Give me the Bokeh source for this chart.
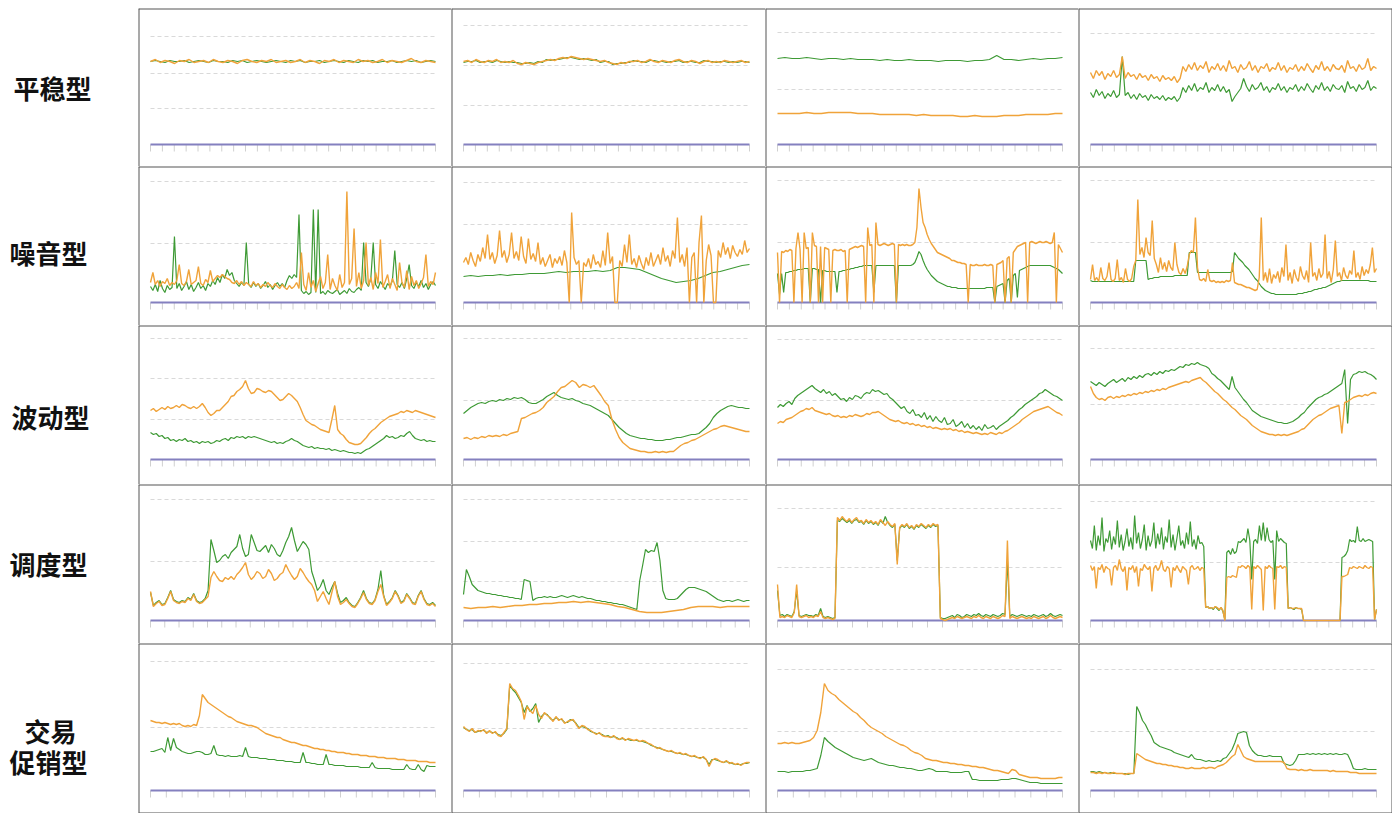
from bokeh.plotting import figure
from bokeh.layouts import gridplot, row
from bokeh.models import Range1d
from bokeh.embed import file_html
from bokeh.resources import INLINE
from bokeh.core.properties import value
import numpy as np

ORANGE = "#F0A33A"
GREEN = "#3E9A35"
BORDER = "#555555"

row_labels = ["平稳型", "噪音型", "波动型", "调度型", "交易", "促销型"]

# ---------------- row 1 : 平稳型 ----------------
r1c1_g = [83,84,83,82,84,83,83,84,82,83,84,83,82,84,83,83,82,84,83,84,82,83,84,83,82,83,84,83,82,84,83,84,82,83,83,84,82,83,84,83,82,84,83,82,84,83,84,82,83,83,84,82,83,84,83,84,82,83,84,83]
r1c1_o = [83,85,82,84,83,81,84,83,85,82,83,84,82,85,83,82,84,83,81,84,85,83,82,84,83,85,82,83,84,82,83,85,82,84,83,81,84,83,85,82,84,83,82,85,83,84,82,83,85,82,84,83,82,84,86,83,82,84,83,82]
r1c2_g = [82,83,83,84,82,83,83,82,84,83,82,83,82,82,81,81,82,81,83,82,85,84,85,85,86,87,87,86,85,86,85,84,85,82,83,83,80,81,81,82,82,84,83,83,82,84,84,83,83,82,83,83,84,82,83,83,82,82,84,83,83,82,83,83,82,83,82,83,83,82]
r1c2_o = [83,84,82,85,83,82,84,83,85,82,83,82,84,81,80,82,81,80,82,83,84,85,84,86,87,86,88,87,86,85,86,85,84,83,84,82,81,80,82,81,83,83,84,82,83,85,83,82,84,83,82,84,85,83,82,84,83,81,83,84,82,83,82,84,83,82,83,84,82,83]
r1c3_g = [86,87,86,86,87,86,85,86,86,85,86,85,85,85,84,85,84,84,85,84,84,84,83,84,84,84,83,84,84,85,89,85,85,84,85,86,85,86,86,87]
r1c3_o = [31,31,31,31,32,31,31,32,32,32,32,31,31,31,30,30,30,30,30,29,30,29,29,29,29,28,28,29,28,28,28,29,29,29,30,30,30,30,31,31]
r1c4_g = [52,47,55,49,53,46,51,48,54,47,50,88,49,52,46,50,45,51,47,49,44,50,46,48,45,49,44,47,45,48,43,47,
          57,52,59,54,61,53,57,55,62,52,57,54,60,53,58,52,55,43,48,52,56,66,58,53,60,55,57,62,54,58,52,57,55,61,54,58,52,57,55,60,53,58,54,61,56,52,59,55,62,54,58,53,60,56,55,59,52,63,56,58,53,60,55,57,64,54,58,56]
r1c4_o = [72,66,74,69,73,65,71,68,74,67,70,88,66,72,68,70,65,71,67,69,64,70,66,68,63,69,65,67,64,68,62,66,
          78,73,80,75,82,74,79,76,83,72,78,75,81,74,79,73,84,76,78,72,80,75,77,83,74,79,72,78,76,81,73,77,75,82,74,79,72,77,75,80,73,78,74,81,76,72,79,75,83,74,78,73,80,76,75,79,72,84,76,78,73,80,75,77,86,74,78,76]

# ---------------- row 2 : 噪音型 ----------------
r2c1_g = [16,12,18,11,22,14,10,17,13,15,66,14,19,12,16,21,13,18,11,15,20,14,17,12,19,16,22,18,25,20,28,24,33,27,30,22,19,16,20,17,60,18,15,20,16,19,14,17,21,15,18,13,17,20,16,19,15,22,27,24,28,25,88,12,9,11,8,10,93,10,93,9,11,8,12,10,9,11,13,8,10,12,9,14,11,10,13,15,12,60,20,16,24,60,18,14,21,17,13,19,16,22,52,18,15,20,14,24,38,17,14,20,16,22,15,19,13,18,21,17]
r2c1_o = [20,30,18,22,16,21,19,24,17,20,18,22,38,19,17,21,33,18,20,22,36,19,17,23,20,32,21,24,27,25,28,26,24,23,20,19,22,18,21,17,20,18,16,21,17,19,15,18,16,20,17,15,19,16,14,18,15,13,17,14,16,20,14,50,18,12,30,15,22,11,19,26,14,20,48,13,24,17,12,28,15,20,111,18,24,74,16,30,14,22,60,17,25,13,30,19,63,15,21,28,14,24,18,12,40,20,15,32,13,26,17,22,14,19,25,48,16,21,18,30]
r2c2_g = [26,27,26,27,27,28,27,28,28,29,29,29,30,31,30,31,31,31,32,31,32,35,35,34,33,30,27,24,22,20,21,22,24,27,30,31,33,35,37,38]
r2c2_o = [40,45,38,50,42,36,48,41,55,44,68,43,50,39,47,72,45,52,40,48,70,44,51,42,66,46,39,64,43,49,41,60,38,45,36,42,48,35,44,39,46,37,52,40,0,90,45,38,42,0,40,36,44,34,48,38,41,35,52,37,70,39,46,0,0,42,36,58,40,68,38,44,35,47,39,33,45,37,50,36,42,48,38,55,41,47,36,52,44,85,40,48,36,55,0,45,50,0,60,87,0,42,58,47,0,0,52,45,60,48,55,44,57,50,46,53,48,62,50,54]
r2c3_g = [29,8,29,10,30,30,31,31,32,32,33,33,33,34,34,34,0,34,34,33,33,0,32,32,31,31,31,31,31,10,31,31,32,32,33,33,34,34,35,35,36,36,37,37,37,37,37,10,37,37,37,37,37,37,37,37,37,37,0,37,37,37,37,37,37,37,38,40,45,51,48,42,37,33,30,27,25,23,21,20,19,18,17,16,16,15,15,15,14,14,14,14,14,14,14,14,14,14,14,14,14,14,15,15,15,15,0,16,17,18,19,0,22,24,0,27,29,5,32,33,34,35,36,37,37,37,37,37,37,37,37,37,37,37,36,35,34,33,31,29]
r2c3_o = [50,0,51,50,52,51,53,52,0,54,70,53,0,70,54,55,0,70,57,56,0,56,0,55,54,53,0,52,53,52,52,53,51,52,0,53,54,55,56,55,56,57,56,0,75,57,58,0,80,58,57,58,59,58,57,58,59,58,0,58,57,58,57,58,57,57,58,60,75,114,95,80,75,68,63,59,56,53,50,49,48,47,46,45,44,42,42,41,40,40,39,39,38,0,38,37,37,38,37,37,37,38,37,37,38,37,0,38,39,40,42,0,44,46,0,50,53,56,57,58,59,60,0,60,61,60,59,60,61,60,60,61,60,59,60,70,0,58,54,50]
r2c4_g = [22,21,21,21,21,21,21,21,21,21,21,21,21,21,21,21,21,21,21,21,21,21,42,42,42,42,42,42,23,24,24,25,25,25,26,26,26,26,26,26,26,27,27,27,27,27,27,27,50,50,50,50,30,30,30,30,30,30,30,30,30,30,30,30,30,30,30,30,30,31,50,47,44,42,40,37,35,33,30,27,24,22,19,16,14,12,11,10,9,9,8,8,8,8,8,8,8,8,8,8,8,9,9,9,10,10,11,11,12,13,13,14,14,15,15,16,17,18,19,20,21,21,22,22,22,22,22,22,22,22,22,22,22,22,22,22,21,21,21,21]
r2c4_o = [23,38,22,25,21,35,24,22,26,40,23,21,24,43,22,25,20,34,23,21,24,36,42,103,48,55,45,65,50,47,82,44,38,30,45,33,40,31,42,35,32,60,38,30,28,34,29,36,48,52,50,85,35,23,22,24,21,33,22,21,22,20,21,20,21,20,22,21,22,40,20,19,18,18,17,16,15,15,14,13,12,13,25,85,22,30,20,34,19,28,24,31,20,35,26,58,22,30,19,33,25,21,36,27,23,32,20,60,26,30,22,34,25,29,68,24,31,20,33,62,26,30,22,35,27,24,32,28,52,25,30,23,36,27,33,29,38,55,30,34]

# ---------------- row 3 : 波动型 ----------------
r3c1_g = [27,25,26,23,24,21,22,19,20,18,20,19,21,18,19,17,18,16,18,17,18,16,17,19,18,20,21,19,22,21,23,22,23,21,23,22,23,22,21,20,19,18,17,18,16,17,16,18,19,21,19,18,16,14,13,12,13,11,12,11,11,10,11,9,10,9,8,9,8,7,7,6,7,6,8,10,11,13,15,17,19,21,24,22,23,21,22,24,23,26,28,24,21,20,19,20,18,19,18,18]
r3c1_o = [49,51,48,50,52,50,53,51,52,54,52,55,54,52,51,53,51,53,56,52,47,44,46,49,49,52,55,58,63,64,68,70,73,79,71,66,67,71,70,68,67,69,68,65,62,59,60,63,66,64,61,58,52,45,39,37,35,34,32,30,29,28,27,40,54,30,26,24,20,17,16,15,15,16,19,22,26,29,31,34,37,39,41,43,44,45,46,48,47,49,48,47,49,48,47,46,45,44,43,42]
r3c2_g = [46,49,52,54,56,57,56,58,59,58,60,59,61,60,62,61,62,60,57,56,56,58,60,63,65,67,64,62,61,60,61,59,58,56,55,54,52,50,48,46,44,40,36,32,29,26,24,23,22,21,21,20,20,19,19,19,20,20,21,22,22,23,24,25,25,26,29,32,36,42,46,49,51,53,54,53,52,52,51,51]
r3c2_o = [21,22,20,22,21,23,22,24,23,24,23,25,24,26,27,28,41,42,44,46,47,49,52,57,60,63,68,72,73,76,79,77,72,75,74,72,74,69,64,58,54,40,30,22,17,14,11,10,9,8,8,7,7,8,7,8,7,8,8,11,14,16,17,19,20,22,24,26,28,30,31,33,34,33,32,31,30,29,28,28]
r3c3_g = [52,55,53,56,58,55,61,64,66,68,70,72,74,71,69,67,70,66,68,64,66,63,60,61,58,62,60,64,63,61,65,67,66,70,68,69,67,65,66,62,60,57,54,51,53,48,46,50,44,45,42,47,40,44,38,43,39,37,42,35,36,40,33,35,38,32,36,31,34,30,33,29,35,31,32,34,30,33,35,37,39,42,44,47,50,52,55,57,59,61,63,66,67,70,68,66,64,63,61,59]
r3c3_o = [36,38,37,40,41,42,44,46,48,49,51,50,52,49,48,47,46,45,46,44,43,44,42,43,42,44,43,45,44,43,44,46,45,47,47,48,46,44,42,40,39,38,39,37,36,37,35,36,34,35,33,34,32,33,31,32,31,30,31,30,31,29,30,28,29,27,28,27,26,27,26,25,26,25,27,26,25,27,26,28,29,31,33,35,37,40,42,44,46,48,49,50,51,52,53,51,49,47,46,44]
r3c4_g = [78,76,74,77,75,73,76,78,80,77,79,81,78,82,80,83,81,84,82,85,86,84,87,85,88,86,89,88,90,89,91,93,92,95,94,96,95,97,95,94,93,91,86,84,81,79,76,73,70,83,72,68,64,60,57,53,49,47,45,43,42,41,40,39,38,37,37,36,36,37,38,40,42,45,47,51,54,57,60,62,63,65,66,68,70,72,74,76,90,36,80,85,86,88,87,88,86,85,83,80]
r3c4_o = [73,66,62,60,61,59,62,63,61,63,62,64,63,65,64,66,65,67,66,68,67,69,68,70,69,71,70,72,73,74,75,76,77,78,77,79,80,81,82,79,77,74,71,68,66,63,60,58,55,52,50,47,44,42,40,37,34,32,30,28,27,26,25,25,24,25,24,25,24,25,26,27,28,30,31,34,37,40,42,44,45,47,49,51,52,53,54,26,57,58,60,62,63,64,63,65,64,66,67,66]

# ---------------- row 4 : 调度型 ----------------
r4c1_g = [28,15,18,20,16,17,23,30,21,19,18,20,19,23,21,27,20,18,19,22,30,81,70,58,60,64,66,62,68,71,74,86,72,64,66,86,78,70,69,72,75,68,76,72,66,64,70,78,84,93,80,69,74,79,76,71,49,40,30,34,41,30,26,33,39,27,18,20,23,18,15,14,18,23,30,22,18,17,21,31,50,25,16,19,23,30,25,18,20,27,23,18,17,25,30,22,17,16,18,15]
r4c1_o = [29,14,17,19,15,16,22,29,20,18,17,19,18,22,20,26,19,17,18,21,24,43,49,44,40,39,43,41,44,41,46,49,53,58,46,41,44,49,47,42,44,51,47,40,42,46,48,56,50,45,41,44,52,48,43,39,36,30,19,24,29,22,16,28,39,24,16,18,21,17,14,13,17,22,28,21,17,16,20,29,36,24,15,18,22,29,24,17,19,26,22,17,16,24,29,21,16,15,17,14]
r4c2_g = [26,51,44,36,33,30,29,28,27,27,26,26,25,25,24,24,23,23,22,22,21,41,40,39,20,22,23,23,24,23,24,23,23,24,25,24,23,24,25,24,23,24,23,22,22,21,20,20,19,19,18,18,17,17,16,16,15,14,13,12,11,40,55,71,68,70,69,78,60,30,22,21,21,21,22,25,28,31,33,33,33,32,31,30,29,27,25,23,21,20,19,20,20,19,20,21,20,19,20,20]
r4c2_o = [13,12,13,13,14,13,14,15,15,16,16,17,17,18,18,19,18,19,18,17,16,14,13,11,9,8,8,8,9,10,11,13,14,14,14,13,14,14,14,14]
r4c3_g = [30,5,6,4,6,5,4,9,30,5,4,5,6,5,5,4,6,5,12,4,3,4,3,2,3,100,99,102,100,98,100,97,100,101,98,99,96,100,97,99,96,98,95,100,97,104,98,95,93,96,60,92,95,93,96,92,94,91,95,93,96,94,92,95,93,96,94,95,3,2,2,3,4,5,3,6,5,3,4,6,5,4,6,5,7,5,4,6,5,4,6,5,4,5,7,6,60,4,6,5,4,5,6,5,4,5,4,6,5,4,5,6,4,5,7,5,4,5,6,5]
r4c3_o = [36,3,4,3,5,4,3,8,36,4,3,4,5,3,4,3,5,4,9,3,2,3,2,1,2,103,100,104,101,99,102,98,101,103,99,100,97,101,98,100,97,99,96,101,98,95,99,96,94,97,56,93,96,94,97,93,95,92,96,94,97,95,93,96,94,97,95,96,2,1,0,1,2,3,2,4,3,2,3,4,3,2,4,3,5,3,2,4,3,2,4,3,2,3,5,4,80,2,4,3,2,3,4,3,2,3,2,4,3,2,3,4,2,3,5,3,2,3,4,3]
r4c4_g = [80,72,95,70,85,75,103,69,82,78,90,71,84,76,100,73,86,70,79,92,74,83,71,105,77,88,72,81,96,70,85,74,80,98,72,87,76,93,71,84,78,101,73,86,70,82,95,75,80,72,88,76,99,74,81,71,85,77,78,74,
          13,14,12,13,11,14,12,10,13,9,1,68,70,66,72,67,69,79,78,80,82,78,92,80,41,79,81,77,95,80,98,79,93,81,78,80,41,90,79,82,80,78,77,12,13,12,11,13,12,12,11,
          0,0,0,0,0,0,0,0,0,0,0,0,0,0,0,0,0,0,0,0,
          63,64,66,70,81,79,80,78,94,80,79,82,79,80,81,80,79,1,11]
r4c4_o = [55,50,54,32,53,51,56,48,54,52,51,35,53,55,50,61,52,49,54,30,53,51,55,48,54,34,52,50,56,53,51,54,29,52,55,50,53,60,51,49,54,52,33,53,50,55,51,48,54,52,50,36,53,55,51,52,54,50,53,52,
          13,14,12,13,12,14,13,11,13,10,0,43,44,43,45,44,43,54,53,55,54,52,55,53,11,54,52,55,53,51,10,54,52,55,53,52,11,54,53,55,52,54,53,12,13,12,12,13,12,12,12,
          0,0,0,0,0,0,0,0,0,0,0,0,0,0,0,0,0,0,0,0,
          44,44,45,46,53,52,54,53,52,54,53,52,55,53,52,54,53,1,11]

# ---------------- row 5 : 交易促销型 ----------------
r5c1_g = [39,39,40,41,42,38,53,40,52,43,41,39,38,37,37,38,39,39,38,36,36,37,45,36,35,35,34,35,34,34,34,35,34,43,34,33,33,33,32,32,32,31,31,31,30,30,30,29,29,29,28,28,28,38,28,28,27,27,26,26,26,36,26,26,25,25,25,25,24,24,24,24,24,23,23,23,23,28,23,22,22,22,22,22,21,21,21,21,21,26,22,21,21,26,21,19,25,24,24,24]
r5c1_o = [70,69,68,68,67,68,67,66,67,66,67,65,64,65,64,66,65,75,96,92,88,86,84,82,80,78,76,74,73,71,69,68,67,66,65,65,64,63,61,59,57,56,55,54,53,53,51,50,49,48,48,47,46,45,45,44,43,42,42,41,41,40,40,39,39,38,38,38,37,37,36,36,36,35,35,35,34,34,34,33,33,33,32,32,32,32,31,31,31,30,30,30,30,29,29,29,29,28,28,28]
r5c2_g = [63,61,60,61,58,59,60,60,58,59,58,58,56,55,57,61,105,101,98,93,88,78,85,79,82,87,68,74,77,76,72,70,73,71,71,68,68,71,70,67,63,64,63,62,59,58,57,57,56,54,55,53,54,53,51,52,51,51,50,50,50,49,49,48,47,45,44,43,42,41,40,39,39,38,37,37,36,36,35,34,34,33,33,33,31,26,31,31,30,29,28,29,28,27,26,26,26,27,27,28]
r5c2_o = [64,61,59,62,58,60,59,61,57,60,57,59,55,54,58,62,107,102,100,95,89,71,84,80,77,85,76,72,78,75,73,69,74,70,72,67,69,70,71,66,62,65,64,61,60,58,56,58,55,54,54,53,55,52,51,53,50,52,51,50,51,49,50,49,47,46,44,42,43,41,40,39,40,38,37,38,36,37,35,34,35,33,32,34,31,24,30,32,31,29,28,30,27,28,26,27,25,27,28,28]
r5c3_g = [19,19,19,18,19,19,19,19,20,20,21,22,35,53,49,46,43,41,39,37,35,33,32,31,30,31,32,30,28,27,26,25,25,24,23,23,22,22,21,20,20,21,22,21,19,19,19,19,18,18,18,18,19,19,11,11,10,10,10,10,10,10,11,11,11,12,12,11,10,9,8,8,8,7,7,7,7,7,7,7]
r5c3_o = [47,47,48,47,48,47,47,48,49,50,53,60,78,107,100,97,95,91,88,85,82,79,77,73,70,66,63,61,59,57,54,52,50,48,46,45,43,40,38,37,35,32,31,30,30,29,28,28,27,27,26,26,25,25,24,24,23,23,22,21,20,20,19,18,17,21,20,16,15,14,13,13,13,12,12,12,12,12,13,13]
r5c4_g = [19,19,18,19,18,18,17,18,17,17,17,17,17,16,17,17,84,78,70,66,60,55,48,46,44,43,42,41,40,38,37,36,35,34,33,36,32,31,31,30,29,30,29,29,30,29,32,33,37,41,48,57,58,59,58,45,40,37,35,35,34,34,35,34,34,34,34,27,26,25,26,30,36,36,36,37,36,37,36,37,36,37,36,37,36,37,36,36,37,36,30,22,21,21,21,22,21,21,21,21]
r5c4_o = [18,18,17,18,17,18,17,17,18,17,17,17,16,17,17,17,37,35,33,31,30,29,28,27,27,26,26,25,25,24,24,23,23,22,22,23,22,22,22,23,22,23,23,22,24,25,26,28,31,34,36,46,40,34,32,31,30,29,29,29,29,29,29,29,29,29,29,28,22,21,21,21,20,21,20,20,21,20,20,20,20,20,20,19,20,19,19,19,19,19,18,18,18,17,17,17,17,17,17,17]

panels = [
    [(r1c1_g, r1c1_o), (r1c2_g, r1c2_o), (r1c3_g, r1c3_o), (r1c4_g, r1c4_o)],
    [(r2c1_g, r2c1_o), (r2c2_g, r2c2_o), (r2c3_g, r2c3_o), (r2c4_g, r2c4_o)],
    [(r3c1_g, r3c1_o), (r3c2_g, r3c2_o), (r3c3_g, r3c3_o), (r3c4_g, r3c4_o)],
    [(r4c1_g, r4c1_o), (r4c2_g, r4c2_o), (r4c3_g, r4c3_o), (r4c4_g, r4c4_o)],
    [(r5c1_g, r5c1_o), (r5c2_g, r5c2_o), (r5c3_g, r5c3_o), (r5c4_g, r5c4_o)],
]

gridlines = [
    [[36, 71, 108], [39, 79, 119], [55, 112], [111]],
    [[59, 121], [78, 120], [60, 122], [60, 122]],
    [[40, 81, 121], [59, 121], [59, 120], [55, 111]],
    [[59, 121], [39, 79, 121], [53, 112], [58, 119]],
    [[63, 129], [62, 127], [59, 121], [59, 121]],
]

tick_counts = [
    [24, 24, 24, 24],
    [24, 24, 24, 24],
    [24, 24, 24, 24],
    [20, 20, 19, 24],
    [18, 18, 18, 12],
]

col_w = [313, 314, 313, 314]
row_h = [158, 159, 159, 159, 170]
base_gap = [22, 23, 25, 23, 23]
LEFT_PAD, RIGHT_PAD = 12, 16


def make_cell(ri, ci):
    W, H = col_w[ci], row_h[ri]
    sx = 100.0 / (W - LEFT_PAD - RIGHT_PAD)
    x0, x1 = -LEFT_PAD * sx, 100 + RIGHT_PAD * sx
    y0, y1 = -base_gap[ri], H - base_gap[ri]
    p = figure(width=W, height=H, x_range=Range1d(x0, x1), y_range=Range1d(y0, y1),
               output_backend="svg", toolbar_location=None, min_border=0,
               x_axis_location=None, y_axis_location=None, outline_line_color=None,
               background_fill_color="white", border_fill_color="white")
    p.xgrid.visible = False
    p.ygrid.visible = False
    for g in gridlines[ri][ci]:
        p.line([0, 100], [g, g], line_color="#d9d9d9", line_dash="4 3", line_width=1)
    nt = tick_counts[ri][ci]
    tx = np.linspace(0, 100, nt + 1)
    p.segment(x0=tx, y0=np.zeros_like(tx), x1=tx, y1=np.full_like(tx, -7.0),
              line_color="#d0d0d0", line_width=1)
    p.line([0, 100], [0, 0], line_color="#8480bf", line_width=2)
    g_vals, o_vals = panels[ri][ci]
    p.line(np.linspace(0, 100, len(g_vals)), g_vals, line_color=GREEN, line_width=1.2)
    p.line(np.linspace(0, 100, len(o_vals)), o_vals, line_color=ORANGE, line_width=1.4)
    bx0, by0, bx1, by1 = [x0, x0], [y0, y1], [x0, x1], [y1, y1]
    if ci == 3:
        bx0.append(x1); by0.append(y0); bx1.append(x1); by1.append(y1)
    if ri == 4:
        bx0.append(x0); by0.append(y0); bx1.append(x1); by1.append(y0)
    p.segment(x0=bx0, y0=by0, x1=bx1, y1=by1, line_color=BORDER, line_width=2)
    return p


cells = [[make_cell(ri, ci) for ci in range(4)] for ri in range(5)]
grid = gridplot(cells, toolbar_location=None)

# label column (page pixel coordinates)
lab = figure(width=130, height=805, x_range=Range1d(8, 138), y_range=Range1d(813, 8),
             output_backend="svg", toolbar_location=None, min_border=0,
             x_axis_location=None, y_axis_location=None, outline_line_color=None,
             background_fill_color="white", border_fill_color="white")
lab.xgrid.visible = False
lab.ygrid.visible = False
label_x = [52, 48, 50, 48, 50, 48]
label_y = [87, 252, 416, 563, 730, 761]
lab.text(x=label_x, y=label_y, text=row_labels, text_font=value("Noto Sans CJK SC"),
         text_font_size="26px", text_font_style="bold", text_color="#111111",
         text_align="center", text_baseline="middle")

layout = row(lab, grid, margin=(8, 8, 8, 8))
open("out.html", "w").write(file_html(layout, INLINE))
